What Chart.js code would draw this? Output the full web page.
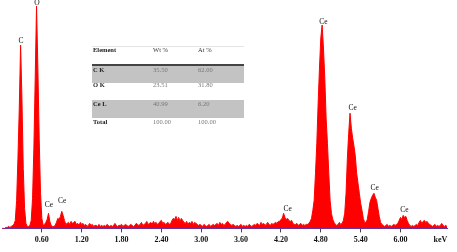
<!DOCTYPE html>
<html>
<head>
<meta charset="utf-8">
<script src="https://cdn.jsdelivr.net/npm/chart.js@4/dist/chart.umd.min.js"></script>
<style>
  body { margin: 0; background: #fff; }
  #wrap { position: relative; width: 457px; height: 252px; }
  .row { position: absolute; left: 92px; width: 152px; font-family: "Liberation Serif", serif; font-size: 6.5px; line-height: 7px; color: #777; }
  .row span { position: absolute; top: 0; white-space: nowrap; }
  .row .el { left: 1px; font-weight: bold; color: #222; }
  .row .wt { left: 61px; }
  .row .at { left: 106px; }
  .head span { color: #333; top: -1px; }
  .gray { background: #c3c3c3; }
</style>
</head>
<body>
<div id="wrap">
  <canvas id="spectrum" width="457" height="252"></canvas>
  <div id="table"></div>
</div>
<script>
// EDS spectrum, 0.02 keV channels starting at 0 keV
const channelWidth = 0.02;
const counts = [
  0, 0, 0, 10, 10, 20, 10, 20, 30, 40,
  80, 280, 700, 1200, 1830, 1300, 600, 200, 50, 20,
  20, 30, 80, 300, 800, 1500, 2220, 1600, 900, 350,
  100, 30, 40, 60, 90, 150, 70, 30, 20, 20,
  30, 60, 100, 90, 120, 170, 130, 80, 40, 50,
  60, 40, 70, 50, 60, 70, 40, 50, 30, 60,
  40, 50, 30, 40, 20, 30, 50, 30, 40, 20,
  30, 30, 20, 40, 20, 30, 20, 30, 20, 40,
  30, 20, 30, 20, 30, 50, 30, 20, 30, 30,
  40, 20, 30, 40, 30, 20, 30, 40, 30, 20,
  30, 50, 40, 30, 40, 60, 30, 40, 50, 70,
  40, 50, 60, 40, 70, 50, 60, 40, 50, 70,
  80, 50, 60, 40, 50, 60, 40, 50, 80, 100,
  90, 120, 80, 110, 70, 100, 80, 60, 50, 70,
  40, 60, 50, 70, 40, 60, 50, 40, 30, 40,
  30, 20, 40, 30, 20, 30, 40, 20, 30, 40,
  30, 40, 50, 30, 60, 40, 50, 30, 40, 60,
  70, 50, 40, 30, 40, 30, 20, 30, 20, 30,
  40, 20, 30, 20, 30, 20, 40, 30, 20, 30,
  40, 30, 50, 40, 30, 60, 40, 50, 30, 40,
  60, 40, 30, 50, 40, 50, 60, 50, 70, 70,
  90, 100, 150, 110, 90, 100, 80, 70, 80, 50,
  40, 40, 50, 30, 40, 50, 30, 40, 30, 40,
  40, 50, 70, 100, 180, 280, 550, 850, 1250, 1600,
  1900, 2030, 1800, 1500, 1100, 850, 550, 280, 150, 90,
  60, 40, 30, 40, 60, 40, 50, 80, 150, 350,
  700, 950, 1150, 1000, 900, 820, 720, 550, 450, 350,
  250, 180, 100, 60, 60, 90, 170, 260, 300, 330,
  350, 310, 280, 200, 120, 60, 40, 30, 20, 30,
  40, 20, 30, 20, 30, 40, 30, 40, 50, 80,
  110, 90, 130, 110, 120, 80, 50, 30, 20, 30,
  20, 30, 40, 30, 60, 80, 50, 70, 80, 60,
  70, 50, 40, 30, 20, 30, 40, 20, 30, 20,
  30, 50, 30, 20, 30, 20
];

const tickValues = [0.6, 1.2, 1.8, 2.4, 3.0, 3.6, 4.2, 4.8, 5.4, 6.0, 6.6];
const tickLabels = ["0.60", "1.20", "1.80", "2.40", "3.00", "3.60", "4.20", "4.80", "5.40", "6.00", "keV"];

// peak markers
const peakNames = ["C", "O", "Ce", "Ce", "Ce", "Ce", "Ce", "Ce", "Ce"];
const peakEnergies = [0.285, 0.525, 0.705, 0.905, 4.3, 4.84, 5.28, 5.61, 6.06];
const peakLabelCounts = [1850, 2230, 210, 250, 175, 2040, 1180, 380, 160];

// quantification table
const elements = ["C K", "O K", "Ce L", "Total"];
const wtPercent = ["35.50", "23.51", "40.99", "100.00"];
const atPercent = ["62.00", "31.80", "6.20", "100.00"];

const energies = counts.map((c, i) => +(i * channelWidth).toFixed(2));
const points = counts.map((c, i) => ({ x: energies[i], y: c }));

const peakLabels = {
  id: "peakLabels",
  afterDraw(chart) {
    const { ctx, scales } = chart;
    ctx.save();
    ctx.font = '7.5px "Liberation Serif"';
    ctx.fillStyle = "#111";
    ctx.textAlign = "center";
    ctx.textBaseline = "alphabetic";
    peakNames.forEach((name, i) => {
      const x = scales.x.getPixelForValue(peakEnergies[i]);
      const y = scales.y.getPixelForValue(peakLabelCounts[i]);
      ctx.fillText(name, x, y);
    });
    ctx.restore();
  }
};

new Chart(document.getElementById("spectrum"), {
  type: "line",
  data: {
    datasets: [
      {
        data: points,
        borderColor: "#ff0000",
        backgroundColor: "#ff0000",
        borderWidth: 1,
        pointRadius: 0,
        tension: 0,
        fill: "origin"
      }
    ]
  },
  options: {
    responsive: false,
    animation: false,
    layout: { padding: { left: 2, right: 10, top: 0, bottom: 4 } },
    plugins: { legend: { display: false }, tooltip: { enabled: false } },
    scales: {
      x: {
        type: "linear",
        min: 0,
        max: 6.7,
        z: 1,
        afterBuildTicks: (scale) => {
          scale.ticks = tickValues.map((v) => ({ value: v }));
        },
        ticks: {
          autoSkip: false,
          maxRotation: 0,
          padding: 3,
          color: "#111",
          font: { family: "Liberation Serif", size: 8, weight: "bold" },
          callback: (value, index) => tickLabels[index]
        },
        grid: {
          drawOnChartArea: false,
          drawTicks: true,
          tickLength: 4,
          color: (ctx) => (ctx.tick && ctx.tick.value === 6.6 ? "rgba(0,0,0,0)" : "#444")
        },
        border: { display: true, color: "#4a3fc0", width: 1 }
      },
      y: {
        display: false,
        min: 0,
        max: 2280
      }
    }
  },
  plugins: [peakLabels]
});

// table overlay
const rowTops = [46, 64, 81, 99.5, 117.5];
const rowHeights = [17, 17, 18.5, 18, 12];
const table = document.getElementById("table");
const header = ["Element", "Wt %", "At %"];
[header].concat(elements.map((e, i) => [e, wtPercent[i], atPercent[i]])).forEach((cells, r) => {
  const row = document.createElement("div");
  row.className = "row" + (r === 0 ? " head" : "") + (r === 1 || r === 3 ? " gray" : "");
  row.style.top = rowTops[r] + "px";
  row.style.height = rowHeights[r] + "px";
  if (r === 0) row.style.borderTop = "1px solid #e4e4e4";
  if (r === 1) row.style.borderTop = "2px solid #444";
  row.innerHTML = `<span class="el">${cells[0]}</span><span class="wt">${cells[1]}</span><span class="at">${cells[2]}</span>`;
  table.appendChild(row);
});
</script>
</body>
</html>
